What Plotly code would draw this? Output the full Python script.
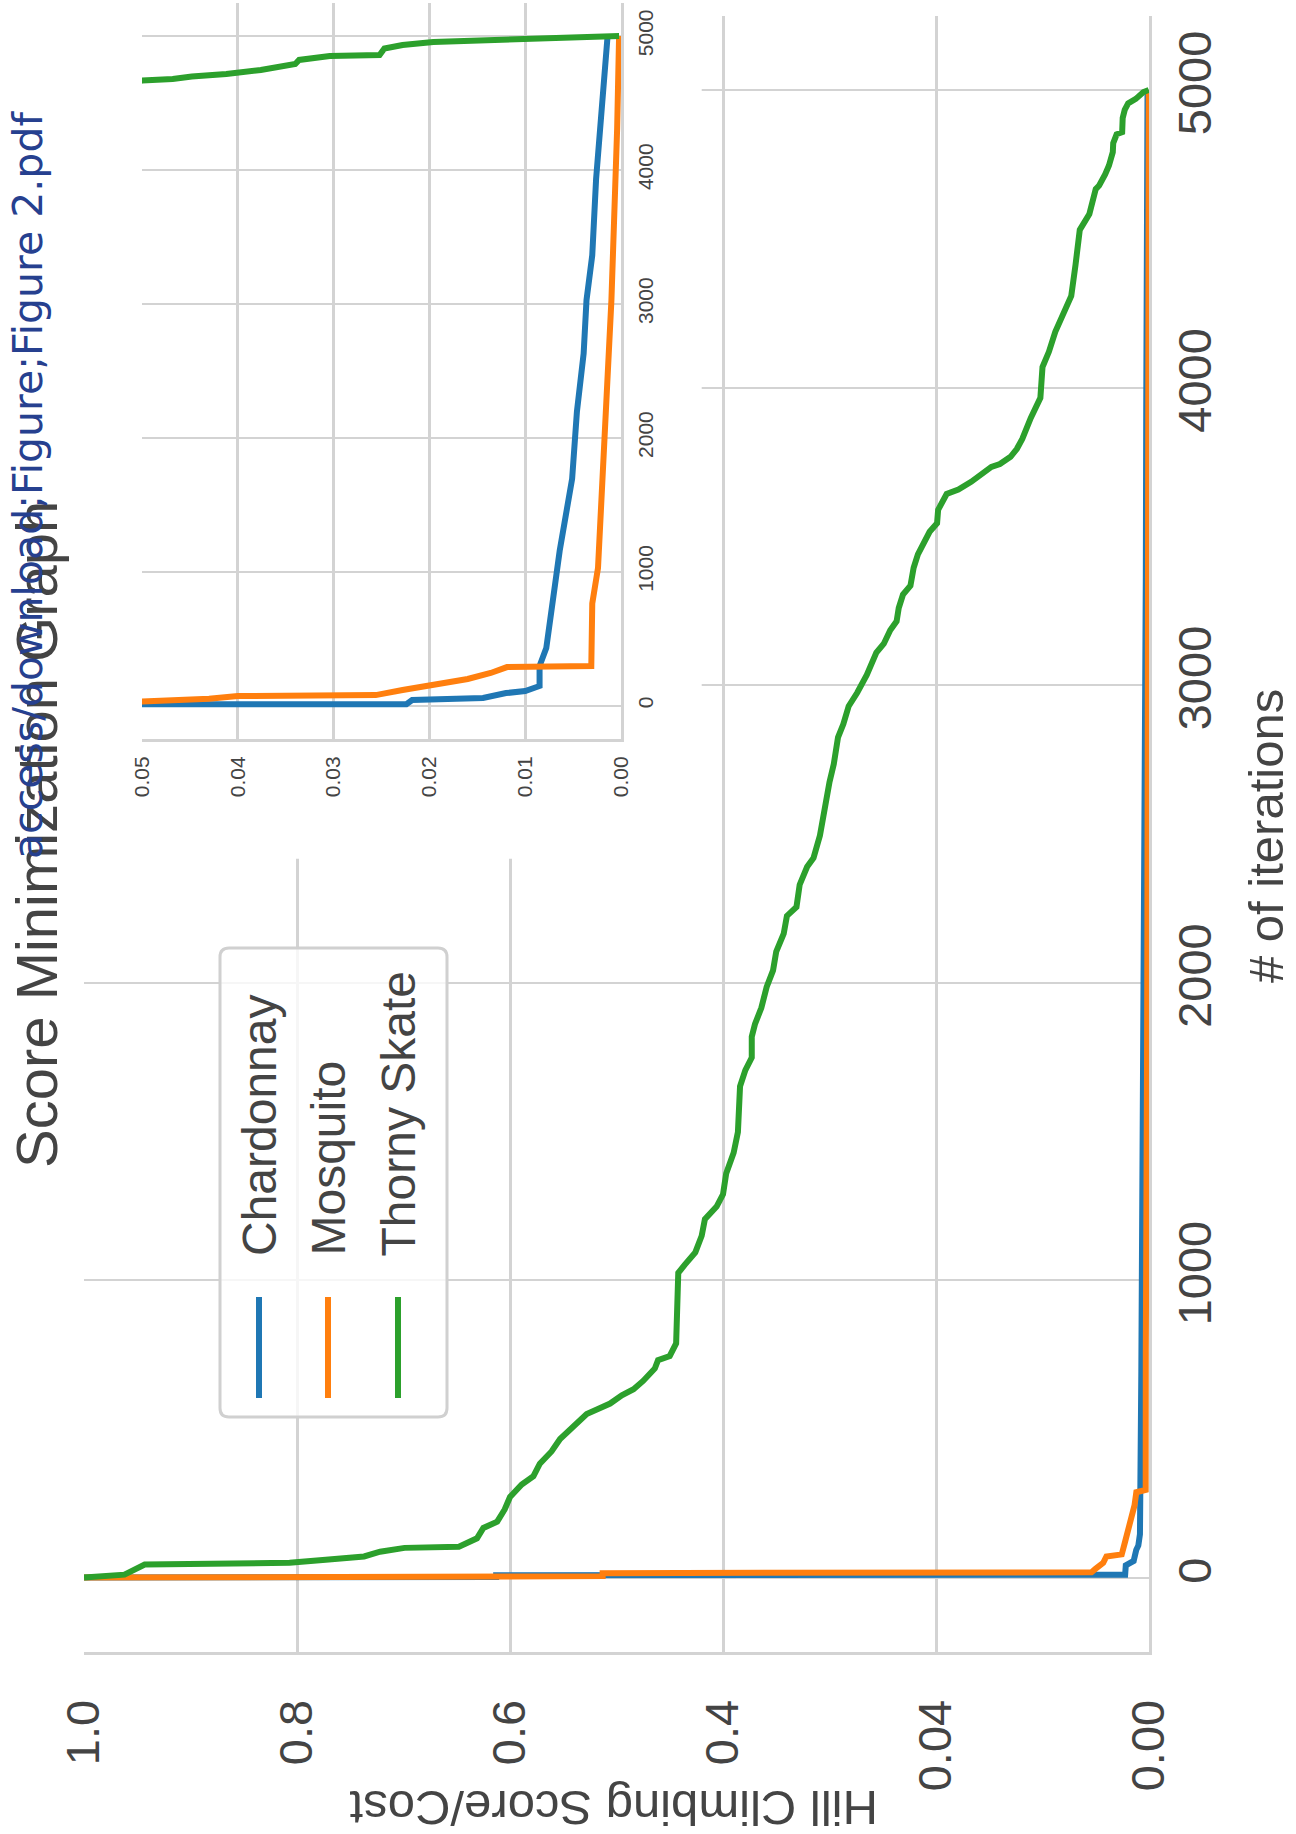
import plotly.graph_objects as go

# ---- data: best score/cost reached at each iteration ----
chardonnay_iter = [0, 2, 8, 10, 41, 56, 93, 108, 146, 295, 429, 694, 895, 1156, 1430,
                   1694, 2195, 2628, 3028, 3363, 3931, 4506, 5000]
chardonnay_score = [1.0, 0.613, 0.613, 0.0224, 0.0218, 0.0144, 0.012, 0.010, 0.0085, 0.0085,
                    0.0078, 0.0072, 0.0069, 0.0064, 0.0057, 0.0051, 0.0046, 0.0039, 0.0036,
                    0.0030, 0.0026, 0.0020, 0.0014]

mosquito_iter = [0, 5, 15, 18, 30, 50, 71, 78, 116, 161, 198, 243, 287, 295, 761, 1027,
                 1694, 2195, 3028, 4313, 5000]
mosquito_score = [1.0, 0.513, 0.513, 0.054, 0.050, 0.043, 0.040, 0.0256, 0.0228, 0.0192,
                  0.016, 0.0136, 0.0119, 0.0031, 0.0030, 0.0024, 0.0019, 0.0015, 0.0010,
                  0.0004, 0.0002]

thorny_iter = [0, 10, 44, 50, 60, 71, 87, 100, 104, 132, 167, 188, 229, 271, 313, 341, 383,
               424, 466, 508, 550, 564, 585, 613, 633, 661, 703, 731, 745, 787, 1024, 1051,
               1093, 1149, 1205, 1247, 1288, 1358, 1428, 1497, 1651, 1706, 1748, 1818, 1860,
               1915, 1985, 2041, 2104, 2164, 2224, 2254, 2329, 2389, 2419, 2494, 2599, 2674,
               2734, 2824, 2869, 2929, 2974, 3034, 3109, 3139, 3184, 3214, 3259, 3304, 3334,
               3394, 3439, 3477, 3515, 3544, 3589, 3642, 3657, 3683, 3700, 3733, 3743, 3767,
               3794, 3827, 3898, 3965, 4069, 4120, 4187, 4258, 4308, 4412, 4530, 4583, 4667,
               4679, 4697, 4716, 4746, 4791, 4821, 4851, 4858, 4906, 4933, 4955, 4970, 4993,
               5000]
thorny_score = [1.0, 0.962, 0.943, 0.807, 0.773, 0.737, 0.722, 0.699, 0.648, 0.631, 0.625,
                0.612, 0.605, 0.600, 0.589, 0.578, 0.572, 0.561, 0.553, 0.540, 0.528, 0.519,
                0.506, 0.495, 0.484, 0.475, 0.464, 0.461, 0.450, 0.444, 0.442, 0.436, 0.426,
                0.420, 0.417, 0.406, 0.400, 0.397, 0.390, 0.386, 0.384, 0.379, 0.373, 0.373,
                0.370, 0.364, 0.359, 0.353, 0.350, 0.343, 0.340, 0.331, 0.328, 0.321, 0.315,
                0.309, 0.304, 0.300, 0.296, 0.292, 0.287, 0.282, 0.274, 0.265, 0.256, 0.249,
                0.243, 0.237, 0.235, 0.231, 0.224, 0.221, 0.217, 0.212, 0.206, 0.199, 0.198,
                0.190, 0.179, 0.167, 0.160, 0.148, 0.140, 0.130, 0.124, 0.119, 0.111, 0.102,
                0.100, 0.094, 0.088, 0.080, 0.073, 0.069, 0.065, 0.056, 0.050, 0.0468, 0.0448,
                0.0412, 0.0376, 0.034, 0.0336, 0.0304, 0.0252, 0.0247, 0.0228, 0.0196, 0.0124,
                0.0052, 0.0002]

series_names = ["Chardonnay", "Mosquito", "Thorny Skate"]

main_tick_vals = [1.0, 0.8, 0.6, 0.4, 0.2, 0.0]
main_tick_text = ["1.0", "0.8", "0.6", "0.4", "0.04", "0.00"]
inset_tick_vals = [0.05, 0.04, 0.03, 0.02, 0.01, 0.0]
inset_tick_text = ["0.05", "0.04", "0.03", "0.02", "0.01", "0.00"]
iter_ticks = [0, 1000, 2000, 3000, 4000, 5000]

# ---- styling ----
W, H = 1296, 1834
COLORS = ["#1f77b4", "#ff7f0e", "#2ca02c"]
GRID = "#d3d3d3"
TEXT = "#444444"
FONT = "Liberation Sans, Arial, sans-serif"
LINE_W = 6


def px(x):
    return x / W


def py(y):
    return 1 - y / H


series = [
    (chardonnay_iter, chardonnay_score),
    (mosquito_iter, mosquito_score),
    (thorny_iter, thorny_score),
]

fig = go.Figure()
for (its, scores), name, color in zip(series, series_names, COLORS):
    fig.add_trace(go.Scatter(x=scores, y=its, mode="lines", name=name,
                             line=dict(color=color, width=LINE_W), showlegend=False,
                             xaxis="x", yaxis="y"))
for (its, scores), name, color in zip(series, series_names, COLORS):
    fig.add_trace(go.Scatter(x=scores, y=its, mode="lines", name=name,
                             line=dict(color=color, width=LINE_W), showlegend=False,
                             xaxis="x2", yaxis="y2"))

axis_common = dict(showgrid=True, gridcolor=GRID, zeroline=False, showline=True,
                   linecolor=GRID, linewidth=3, ticks="", automargin=False,
                   fixedrange=True)

fig.update_layout(
    width=W, height=H,
    margin=dict(l=0, r=0, t=0, b=0),
    paper_bgcolor="white", plot_bgcolor="white",
    font=dict(family=FONT, color=TEXT),
    showlegend=False,
    xaxis=dict(domain=[px(84), px(1149)], anchor="y", range=[1.0, 0.0],
               tickvals=main_tick_vals, ticktext=main_tick_text, tickangle=-90,
               gridwidth=3, ticklabelstandoff=26,
               tickfont=dict(size=47, family=FONT, color=TEXT), **axis_common),
    yaxis=dict(domain=[py(1652), py(15.6)], anchor="x", side="right",
               range=[-250, 5250], tickvals=iter_ticks, tickangle=-90,
               gridwidth=2, ticklabelstandoff=3,
               tickfont=dict(size=47, family=FONT, color=TEXT), **axis_common),
    xaxis2=dict(domain=[px(142), px(621)], anchor="y2", range=[0.05, 0.0],
                tickvals=inset_tick_vals, ticktext=inset_tick_text, tickangle=-90,
                gridwidth=3, ticklabelstandoff=6,
                tickfont=dict(size=21, family=FONT, color=TEXT), **axis_common),
    yaxis2=dict(domain=[py(739), py(2.5)], anchor="x2", side="right",
                range=[-250, 5250], tickvals=iter_ticks, tickangle=-90,
                gridwidth=2, ticklabelstandoff=4,
                tickfont=dict(size=21, family=FONT, color=TEXT), **axis_common),
)

annotations = [
    dict(text="Score Minimization Graph", x=px(36), y=py(835), textangle=-90,
         font=dict(size=58, family=FONT, color=TEXT)),
    dict(text="access/download;Figure;Figure 2.pdf", x=px(28), y=py(861),
         yanchor="bottom", textangle=-90,
         font=dict(size=41, family="DejaVu Sans, sans-serif", color="#26408f")),
    dict(text="# of iterations", x=px(1266), y=py(836), textangle=-90,
         font=dict(size=49, family=FONT, color=TEXT)),
    dict(text="Hill Climbing Score/Cost", x=px(614), y=py(1808), textangle=180,
         font=dict(size=49, family=FONT, color=TEXT)),
]

# blank panel behind the inset (its labels included) hiding the main grid there
shapes = [dict(type="rect", xref="x", yref="y", layer="between",
               x0=1.0, x1=0.42, y0=2416, y1=5250,
               fillcolor="white", line=dict(width=0))]

# legend drawn as a rotated box: swatches and labels
leg_x0, leg_x1, leg_y0, leg_y1, r = 220, 447, 948, 1417, 9
box_path = (
    f"M {px(leg_x0 + r)},{py(leg_y0)} L {px(leg_x1 - r)},{py(leg_y0)} "
    f"Q {px(leg_x1)},{py(leg_y0)} {px(leg_x1)},{py(leg_y0 + r)} "
    f"L {px(leg_x1)},{py(leg_y1 - r)} "
    f"Q {px(leg_x1)},{py(leg_y1)} {px(leg_x1 - r)},{py(leg_y1)} "
    f"L {px(leg_x0 + r)},{py(leg_y1)} "
    f"Q {px(leg_x0)},{py(leg_y1)} {px(leg_x0)},{py(leg_y1 - r)} "
    f"L {px(leg_x0)},{py(leg_y0 + r)} "
    f"Q {px(leg_x0)},{py(leg_y0)} {px(leg_x0 + r)},{py(leg_y0)} Z"
)
shapes.append(dict(type="path", path=box_path, xref="paper", yref="paper", layer="above",
                   fillcolor="rgba(255,255,255,0.8)", line=dict(color="#d0d0d0", width=3)))

legend_cols = [259, 328, 398]
for cx, name, color in zip(legend_cols, series_names, COLORS):
    shapes.append(dict(type="line", xref="paper", yref="paper", layer="above",
                       x0=px(cx), x1=px(cx), y0=py(1398), y1=py(1297),
                       line=dict(color=color, width=LINE_W)))
    annotations.append(dict(text=name, x=px(cx), y=py(1258), xanchor="center",
                            yanchor="bottom", textangle=-90,
                            font=dict(size=48, family=FONT, color=TEXT)))

for a in annotations:
    a.setdefault("xref", "paper")
    a.setdefault("yref", "paper")
    a.setdefault("showarrow", False)
    a.setdefault("xanchor", "center")
    a.setdefault("yanchor", "middle")

fig.update_layout(annotations=annotations, shapes=shapes)

fig.write_html("out.html")
